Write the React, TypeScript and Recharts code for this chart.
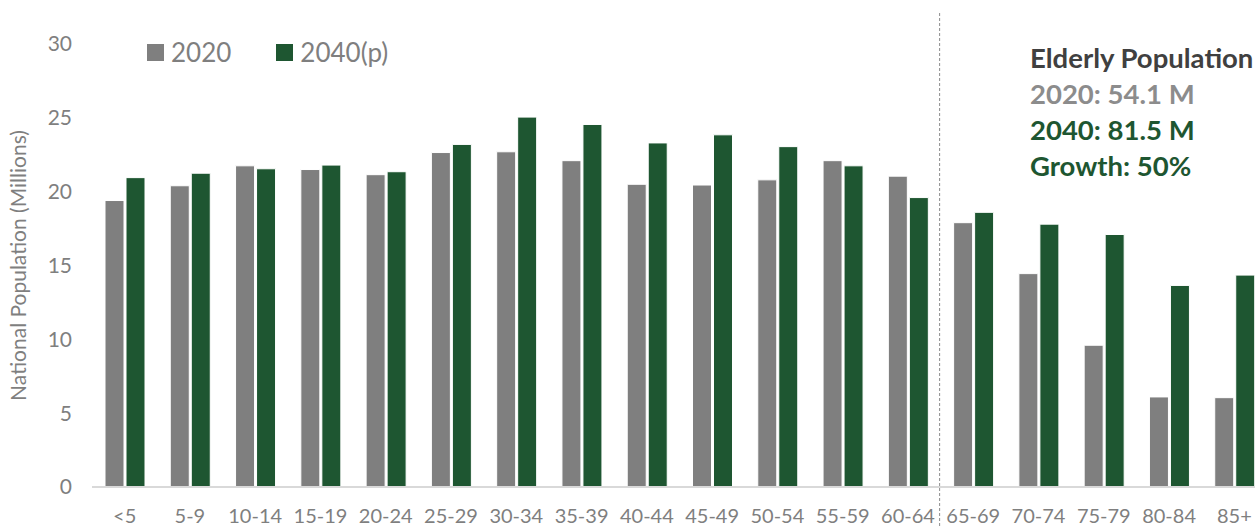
import React from 'react';
import {
  BarChart,
  Bar,
  XAxis,
  YAxis,
  ReferenceLine,
} from 'recharts';

const AGE_GROUPS = [
  '<5', '5-9', '10-14', '15-19', '20-24', '25-29', '30-34', '35-39', '40-44',
  '45-49', '50-54', '55-59', '60-64', '65-69', '70-74', '75-79', '80-84', '85+',
];

// millions of people per age band
const POP_2020 = [
  19.4, 20.4, 21.75, 21.5, 21.15, 22.65, 22.7, 22.1, 20.5,
  20.45, 20.8, 22.1, 21.05, 17.9, 14.45, 9.6, 6.1, 6.05,
];
const POP_2040 = [
  20.95, 21.25, 21.55, 21.8, 21.35, 23.2, 25.05, 24.55, 23.3,
  23.85, 23.05, 21.75, 19.6, 18.6, 17.8, 17.1, 13.65, 14.35,
];

const Y_TICKS = [0, 5, 10, 15, 20, 25, 30];

const SERIES = [
  { key: 'y2020', label: '2020', color: '#7f7f7f' },
  { key: 'y2040', label: '2040(p)', color: '#1e5631' },
];

const ELDERLY_LINES = [
  { text: 'Elderly Population', color: '#404040' },
  { text: '2020: 54.1 M', color: '#8c8c8c' },
  { text: '2040: 81.5 M', color: '#1e5631' },
  { text: 'Growth: 50%', color: '#1e5631' },
];

const GRAY = '#7f7f7f';
const FONT = 'Lato, "Open Sans", sans-serif';

const data = AGE_GROUPS.map((age, i) => ({
  age,
  y2020: POP_2020[i],
  y2040: POP_2040[i],
}));

export default function App() {
  return (
    <div style={{ position: 'absolute', left: 0, top: 0, width: 1255, height: 527, overflow: 'hidden', background: '#fff' }}>
      <BarChart
        width={1277}
        height={527}
        data={data}
        margin={{ top: 44, right: 10, left: 30, bottom: 0 }}
        barSize={19}
        barGap={2}
      >
        <XAxis
          dataKey="age"
          interval={0}
          tickLine={false}
          tickSize={0}
          tickMargin={22}
          height={40}
          axisLine={{ stroke: '#d9d9d9', strokeWidth: 2 }}
          tick={{ fill: GRAY, fontSize: 20, fontFamily: FONT }}
        />
        <YAxis
          domain={[0, 30]}
          ticks={Y_TICKS}
          width={62}
          axisLine={false}
          tickLine={false}
          tickSize={0}
          tickMargin={20}
          tick={{ fill: GRAY, fontSize: 21, fontFamily: FONT }}
          label={{
            value: 'National Population (Millions)',
            angle: -90,
            position: 'insideLeft',
            offset: 0,
            dx: -11,
            style: { fill: GRAY, fontSize: 21, fontFamily: FONT, textAnchor: 'middle' },
          }}
        />
        {/* dashed divider before the 65+ groups */}
        <ReferenceLine
          x="65-69"
          position="start"
          shape={(p: any) => (
            <line x1={p.x1 - 1} x2={p.x2 - 1} y1={13} y2={527} stroke="#8c8c8c" strokeWidth={1} strokeDasharray="3 2" />
          )}
        />
        {SERIES.map((s) => (
          <Bar
            key={s.key}
            dataKey={s.key}
            name={s.label}
            fill={s.color}
            stroke="#ffffff"
            strokeWidth={1}
            isAnimationActive={false}
          />
        ))}
      </BarChart>

      <div
        style={{
          position: 'absolute',
          left: 147,
          top: 36,
          display: 'flex',
          alignItems: 'center',
          fontFamily: FONT,
          fontSize: 26,
          color: GRAY,
        }}
      >
        {SERIES.map((s) => (
          <div key={s.key} style={{ display: 'flex', alignItems: 'center', marginRight: 45 }}>
            <span style={{ width: 17, height: 17, background: s.color, marginRight: 7 }} />
            <span>{s.label}</span>
          </div>
        ))}
      </div>

      <div
        style={{
          position: 'absolute',
          left: 1030,
          top: 40,
          fontFamily: FONT,
          fontWeight: 700,
          fontSize: 27.5,
          lineHeight: '36px',
          whiteSpace: 'nowrap',
        }}
      >
        {ELDERLY_LINES.map((line) => (
          <div key={line.text} style={{ color: line.color }}>
            {line.text}
          </div>
        ))}
      </div>
    </div>
  );
}
